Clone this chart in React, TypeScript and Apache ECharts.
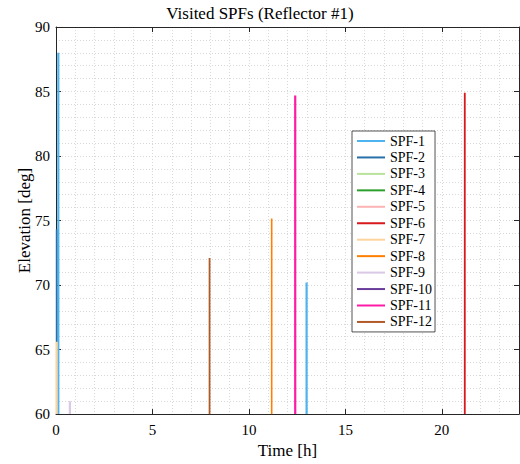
import React, { useEffect, useRef } from "react";
import * as echarts from "echarts";

const spfNames = ["SPF-1", "SPF-2", "SPF-3", "SPF-4", "SPF-5", "SPF-6", "SPF-7", "SPF-8", "SPF-9", "SPF-10", "SPF-11", "SPF-12"];
const spfColors = ["#4db4f0", "#2a70a8", "#b9e39a", "#2ca02c", "#fbb4b4", "#d7191c", "#fdd49e", "#ff7f00", "#d9c8e6", "#6a3d9a", "#ff1aa8", "#b15928"];
const spfWidths = [2.2, 1.6, 2.2, 1.6, 2.2, 1.8, 2.2, 1.6, 2.2, 1.6, 2.2, 1.8];

// passes: SPF number, time [h], elevation range [deg]
const passSpf = [1, 2, 7, 9, 12, 8, 11, 1, 6];
const passTime = [0.12, 0.03, 0.03, 0.72, 7.96, 11.18, 12.4, 12.99, 21.19];
const passLow = [60, 65.6, 60, 60, 60, 60, 60, 60, 60];
const passHigh = [88, 74.3, 65.6, 61, 72.1, 75.15, 84.7, 70.2, 84.9];

const xTicks = [0, 5, 10, 15, 20];
const yTicks = [60, 65, 70, 75, 80, 85, 90];

const FONT = "Liberation Serif";
const AX = "#262626";
const GRID = "#d8d8d8";

export default function App() {
  const ref = useRef<HTMLDivElement>(null);
  useEffect(() => {
    document.body.style.margin = "0";
    const chart = echarts.init(ref.current!, null, { renderer: "svg" });
    const series: any[] = [];
    spfNames.forEach((name, i) => {
      const passes = passSpf.map((s, k) => (s === i + 1 ? k : -1)).filter((k) => k >= 0);
      const base = {
        type: "line",
        name,
        symbol: "none",
        color: spfColors[i],
        lineStyle: { width: spfWidths[i], color: spfColors[i] },
        xAxisIndex: 0,
        yAxisIndex: 0,
      };
      if (passes.length === 0) {
        series.push({ ...base, data: [] });
      } else {
        passes.forEach((k) => {
          series.push({
            ...base,
            data: [
              [passTime[k], passLow[k]],
              [passTime[k], passHigh[k]],
            ],
          });
        });
      }
    });

    const xMin = xTicks[0];
    const yMin = yTicks[0];
    const yMax = yTicks[yTicks.length - 1];

    chart.setOption({
      animation: false,
      backgroundColor: "#ffffff",
      textStyle: { fontFamily: FONT },
      title: {
        text: "Visited SPFs (Reflector #1)",
        left: "center",
        top: 5,
        padding: 0,
        textStyle: { fontFamily: FONT, fontSize: 17, fontWeight: "normal", color: "#000" },
      },
      grid: { left: 56, right: 1, top: 27, bottom: 44, containLabel: false },
      legend: {
        data: spfNames,
        orient: "vertical",
        left: 352,
        top: 131,
        padding: [3, 3, 3, 4],
        itemWidth: 28,
        itemHeight: 14,
        itemGap: 2.45,
        itemTextGap: 2,
        itemStyle: { opacity: 0 },
        backgroundColor: "#ffffff",
        borderColor: AX,
        borderWidth: 0.8,
        borderRadius: 0,
        textStyle: { fontFamily: FONT, fontSize: 14, color: "#000", lineHeight: 14 },
      },
      xAxis: [
        {
          type: "value",
          position: "bottom",
          min: xMin,
          max: 24,
          interval: 5,
          name: "Time [h]",
          nameLocation: "middle",
          nameGap: 24,
          nameTextStyle: { fontFamily: FONT, fontSize: 17, color: "#000" },
          axisLine: { show: true, onZero: false, lineStyle: { color: AX, width: 1 } },
          axisTick: { show: true, inside: true, length: 5, lineStyle: { color: AX } },
          axisLabel: { show: true, showMaxLabel: false, margin: 8, fontFamily: FONT, fontSize: 15, color: "#000" },
          splitLine: { show: false },
        },
        {
          type: "value",
          position: "top",
          min: xMin,
          max: 24,
          interval: 5,
          axisLine: { show: true, onZero: false, lineStyle: { color: AX, width: 1 } },
          axisTick: { show: true, inside: true, length: 5, lineStyle: { color: AX } },
          axisLabel: { show: false },
          splitLine: { show: false },
        },
        {
          type: "value",
          position: "bottom",
          min: xMin,
          max: 24,
          interval: 1,
          axisLine: { show: false },
          axisTick: { show: false },
          axisLabel: { show: false },
          splitLine: { show: true, lineStyle: { color: GRID, type: [1, 2], width: 1 } },
        },
      ],
      yAxis: [
        {
          type: "value",
          position: "left",
          min: yMin,
          max: yMax,
          interval: 5,
          name: "Elevation [deg]",
          nameLocation: "middle",
          nameGap: 23,
          nameMoveOverlap: false,
          nameTextStyle: { fontFamily: FONT, fontSize: 17, color: "#000" },
          axisLine: { show: true, onZero: false, lineStyle: { color: AX, width: 1 } },
          axisTick: { show: true, inside: true, length: 5, lineStyle: { color: AX } },
          axisLabel: { show: true, margin: 6, fontFamily: FONT, fontSize: 15, color: "#000" },
          splitLine: { show: false },
        },
        {
          type: "value",
          position: "right",
          min: yMin,
          max: yMax,
          interval: 5,
          axisLine: { show: true, onZero: false, lineStyle: { color: AX, width: 1 } },
          axisTick: { show: true, inside: true, length: 5, lineStyle: { color: AX } },
          axisLabel: { show: false },
          splitLine: { show: false },
        },
        {
          type: "value",
          position: "left",
          min: yMin,
          max: yMax,
          interval: 1,
          axisLine: { show: false },
          axisTick: { show: false },
          axisLabel: { show: false },
          splitLine: { show: true, lineStyle: { color: GRID, type: [1, 2], width: 1 } },
        },
      ],
      series,
    });
    return () => chart.dispose();
  }, []);
  return <div ref={ref} style={{ width: 520, height: 464 }} />;
}
